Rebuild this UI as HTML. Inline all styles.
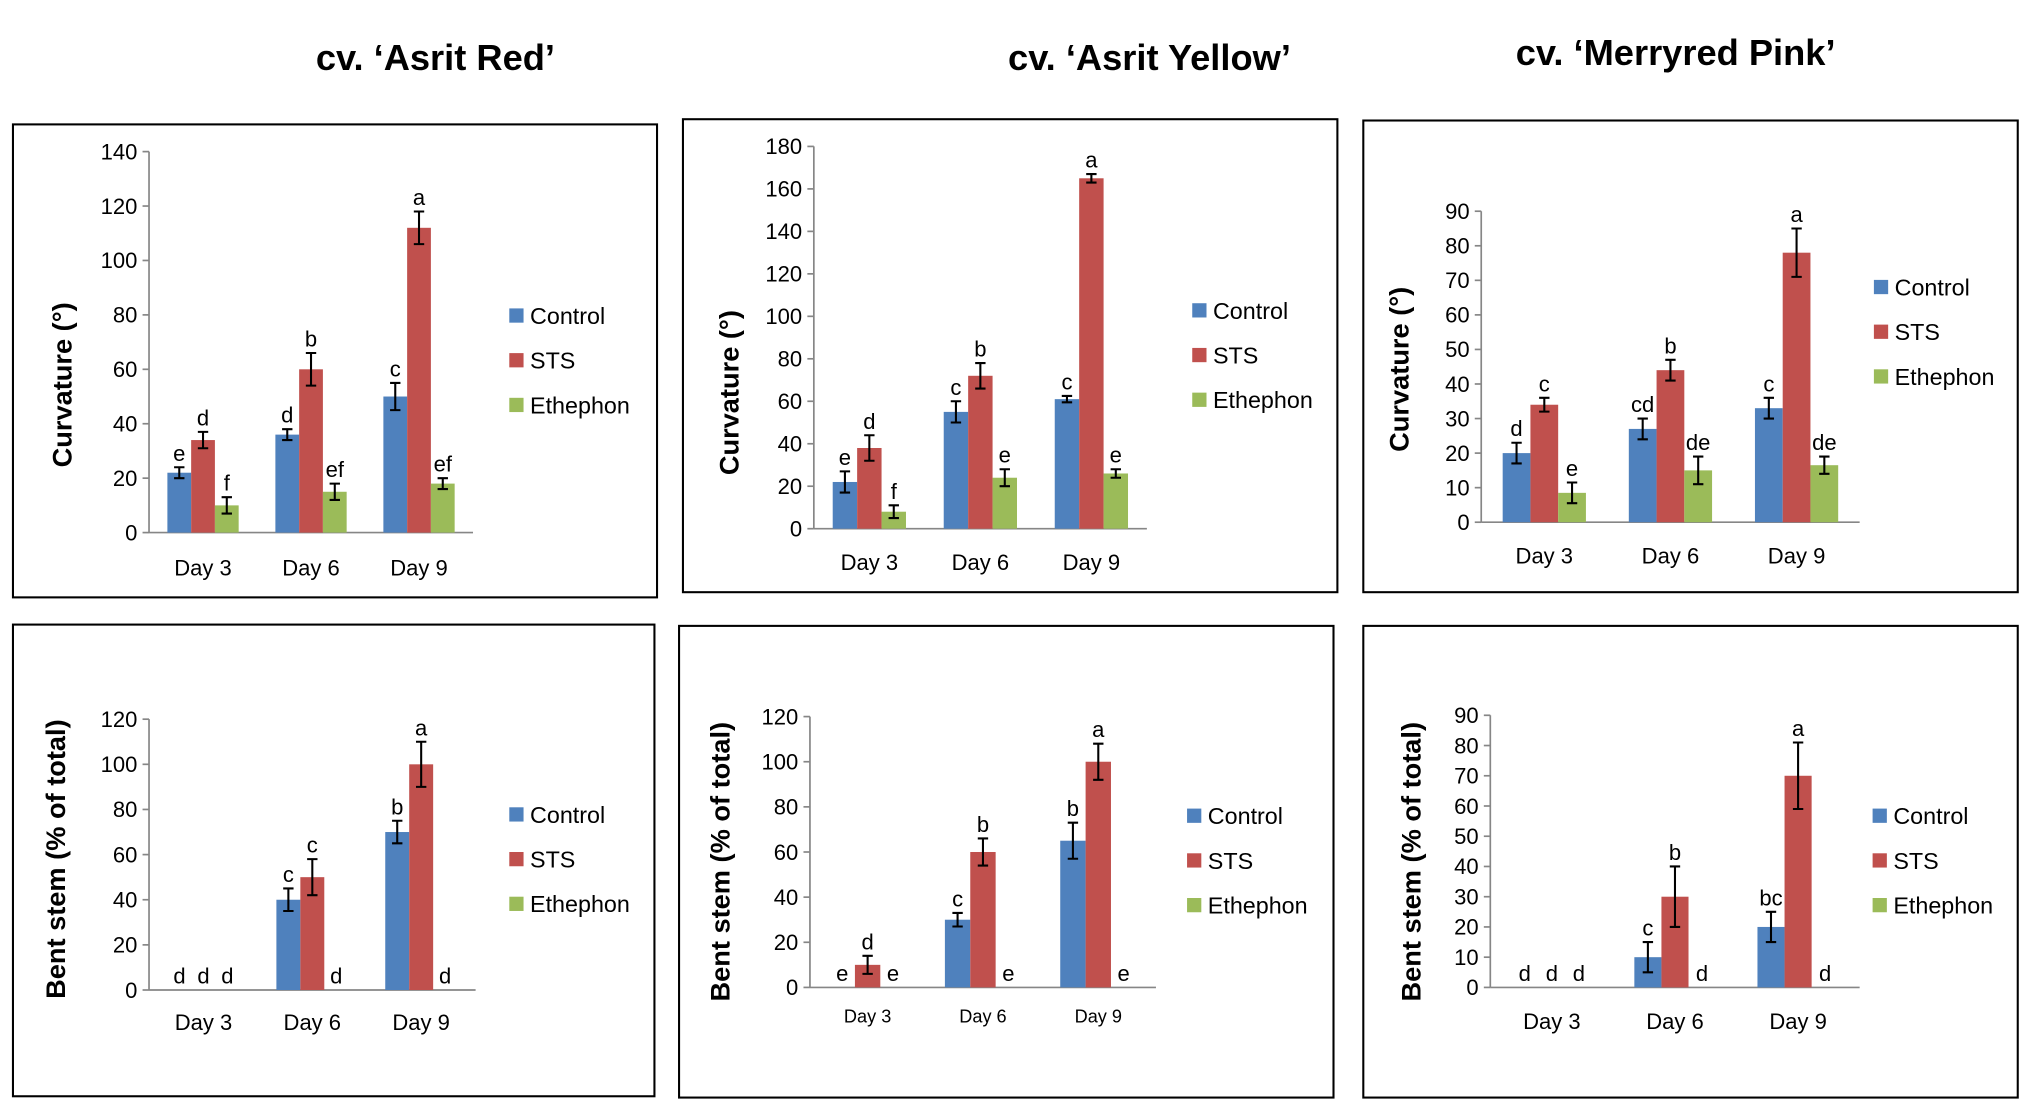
<!DOCTYPE html>
<html><head><meta charset="utf-8"><style>
html,body{margin:0;padding:0;background:#fff;}
svg{display:block;font-family:"Liberation Sans",sans-serif;}
</style></head><body>
<svg id="fig" width="2032" height="1110" viewBox="0 0 1568 856.6" preserveAspectRatio="none" xmlns="http://www.w3.org/2000/svg">
<text x="336" y="54" font-size="28" font-weight="bold" text-anchor="middle">cv. ‘Asrit Red’</text>
<text x="887" y="54" font-size="28" font-weight="bold" text-anchor="middle">cv. ‘Asrit Yellow’</text>
<text x="1293" y="50" font-size="28" font-weight="bold" text-anchor="middle">cv. ‘Merryred Pink’</text>
</svg>
<script>
const categories = ["Day 3","Day 6","Day 9"];
const seriesNames = ["Control","STS","Ethephon"];
// Curvature panels
const p1Values = [[22,36,50],[34,60,112],[10,15,18]];
const p1Errors = [[2,2,5],[3,6,6],[3,3,2]];
const p1Letters = [["e","d","c"],["d","b","a"],["f","ef","ef"]];
const p2Values = [[22,55,61],[38,72,165],[8,24,26]];
const p2Errors = [[5,5,1.5],[6,6,2],[3,4,2]];
const p2Letters = [["e","c","c"],["d","b","a"],["f","e","e"]];
const p3Values = [[20,27,33],[34,44,78],[8.5,15,16.5]];
const p3Errors = [[3,3,3],[2,3,7],[3,4,2.5]];
const p3Letters = [["d","cd","c"],["c","b","a"],["e","de","de"]];
// Bent stem panels
const p4Values = [[0,40,70],[0,50,100],[0,0,0]];
const p4Errors = [[0,5,5],[0,8,10],[0,0,0]];
const p4Letters = [["d","c","b"],["d","c","a"],["d","d","d"]];
const p5Values = [[0,30,65],[10,60,100],[0,0,0]];
const p5Errors = [[0,3,8],[4,6,8],[0,0,0]];
const p5Letters = [["e","c","b"],["d","b","a"],["e","e","e"]];
const p6Values = [[0,10,20],[0,30,70],[0,0,0]];
const p6Errors = [[0,5,5],[0,10,11],[0,0,0]];
const p6Letters = [["d","c","bc"],["d","b","a"],["d","d","d"]];
const p1Ticks = [0,20,40,60,80,100,120,140];
const p2Ticks = [0,20,40,60,80,100,120,140,160,180];
const p3Ticks = [0,10,20,30,40,50,60,70,80,90];
const p4Ticks = [0,20,40,60,80,100,120];
const p5Ticks = [0,20,40,60,80,100,120];
const p6Ticks = [0,10,20,30,40,50,60,70,80,90];

const colors = ["#4f81bd","#c0504d","#9bbb59"];
const panels = [
 {id:"asrit-red-curvature",box:[10,96,497,365],ax:115,axEnd:365,y0:411,yTop:117,ticks:p1Ticks,v:p1Values,e:p1Errors,l:p1Letters,title:"Curvature (°)",tx:48,ty:297,lx:393,ly:244,dayFs:17,dayY:444},
 {id:"asrit-yellow-curvature",box:[527,92,505,365],ax:628,axEnd:885,y0:408,yTop:113,ticks:p2Ticks,v:p2Values,e:p2Errors,l:p2Letters,title:"Curvature (°)",tx:563,ty:303,lx:920,ly:240,dayFs:17,dayY:440},
 {id:"merryred-pink-curvature",box:[1052,93,505,364],ax:1143,axEnd:1435,y0:403,yTop:163,ticks:p3Ticks,v:p3Values,e:p3Errors,l:p3Letters,title:"Curvature (°)",tx:1080,ty:285,lx:1446,ly:222,dayFs:17,dayY:435},
 {id:"asrit-red-bent-stem",box:[10,482,495,364],ax:115,axEnd:367,y0:764,yTop:555,ticks:p4Ticks,v:p4Values,e:p4Errors,l:p4Letters,title:"Bent stem (% of total)",tx:43,ty:663,lx:393,ly:629,dayFs:17,dayY:795},
 {id:"asrit-yellow-bent-stem",box:[524,483,505,364],ax:625,axEnd:892,y0:762,yTop:553,ticks:p5Ticks,v:p5Values,e:p5Errors,l:p5Letters,title:"Bent stem (% of total)",tx:556,ty:665,lx:916,ly:630,dayFs:14,dayY:789},
 {id:"merryred-pink-bent-stem",box:[1052,483,505,364],ax:1150,axEnd:1435,y0:762,yTop:552,ticks:p6Ticks,v:p6Values,e:p6Errors,l:p6Letters,title:"Bent stem (% of total)",tx:1089,ty:665,lx:1445,ly:630,dayFs:17,dayY:794}
];
const NS="http://www.w3.org/2000/svg";
const svg=document.getElementById("fig");
function mk(tag,attrs,parent,txt){const el=document.createElementNS(NS,tag);for(const k in attrs)el.setAttribute(k,attrs[k]);if(txt!==undefined)el.textContent=txt;(parent||svg).appendChild(el);return el;}
panels.forEach(p=>{
 const g=mk("g",{});
 
 
 const maxV=p.ticks[p.ticks.length-1];
 const yS=v=>p.y0-(v/maxV)*(p.y0-p.yTop);
 const band=(p.axEnd-p.ax)/categories.length;
 const bw=band*0.22;
 const xC=i=>p.ax+band*(i+0.5);
 const frame=mk("rect",{x:p.box[0],y:p.box[1],width:p.box[2],height:p.box[3],fill:"none",stroke:"#000","stroke-width":1.6},g);
 
 
 const ya=mk("line",{x1:p.ax,y1:p.yTop,x2:p.ax,y2:p.y0,stroke:"#868686","stroke-width":1.3},g);
 
 
 p.ticks.forEach(t=>{
  mk("line",{x1:p.ax-5,y1:yS(t),x2:p.ax,y2:yS(t),stroke:"#868686","stroke-width":1.3},g);
  const tl=mk("text",{x:p.ax-9,y:yS(t)+6,"font-size":17,"text-anchor":"end"},g,String(t));
  
  
 });
 const xa=mk("line",{x1:p.ax,y1:p.y0,x2:p.axEnd,y2:p.y0,stroke:"#868686","stroke-width":1.3},g);
 
 
 categories.forEach((c,i)=>{
  const cl=mk("text",{x:xC(i),y:p.dayY,"font-size":p.dayFs,"text-anchor":"middle"},g,c);
  
  
 });
 const yt=mk("text",{x:p.tx,y:p.ty,"font-size":21,"font-weight":"bold","text-anchor":"middle",transform:`rotate(-90 ${p.tx} ${p.ty})`,dy:7},g,p.title);
 
 
 seriesNames.forEach((s,si)=>{
  categories.forEach((c,i)=>{
   const v=p.v[si][i],er=p.e[si][i];
   const x=xC(i)+(si-1.5)*bw;
   if(v>0){
    const b=mk("rect",{x:x,y:yS(v),width:bw,height:p.y0-yS(v),fill:colors[si]},g);
    
    
   }
   const cx=x+bw/2;
   if(er>0){
    const eb=mk("path",{d:`M${cx},${yS(v+er)}V${yS(v-er)}M${cx-4},${yS(v+er)}H${cx+4}M${cx-4},${yS(v-er)}H${cx+4}`,stroke:"#000","stroke-width":1.6,fill:"none"},g);
    
    
   }
   const lt=mk("text",{x:cx,y:yS(v+er)-5,"font-size":17,"text-anchor":"middle"},g,p.l[si][i]);
   
   
  });
  const ly=p.ly+si*34.5;
  const sw=mk("rect",{x:p.lx,y:ly-6,width:11,height:11,fill:colors[si]},g);
  
  
  const lt=mk("text",{x:p.lx+16,y:ly+6,"font-size":18},g,s);
  
  
 });
});
</script>
</body></html>
